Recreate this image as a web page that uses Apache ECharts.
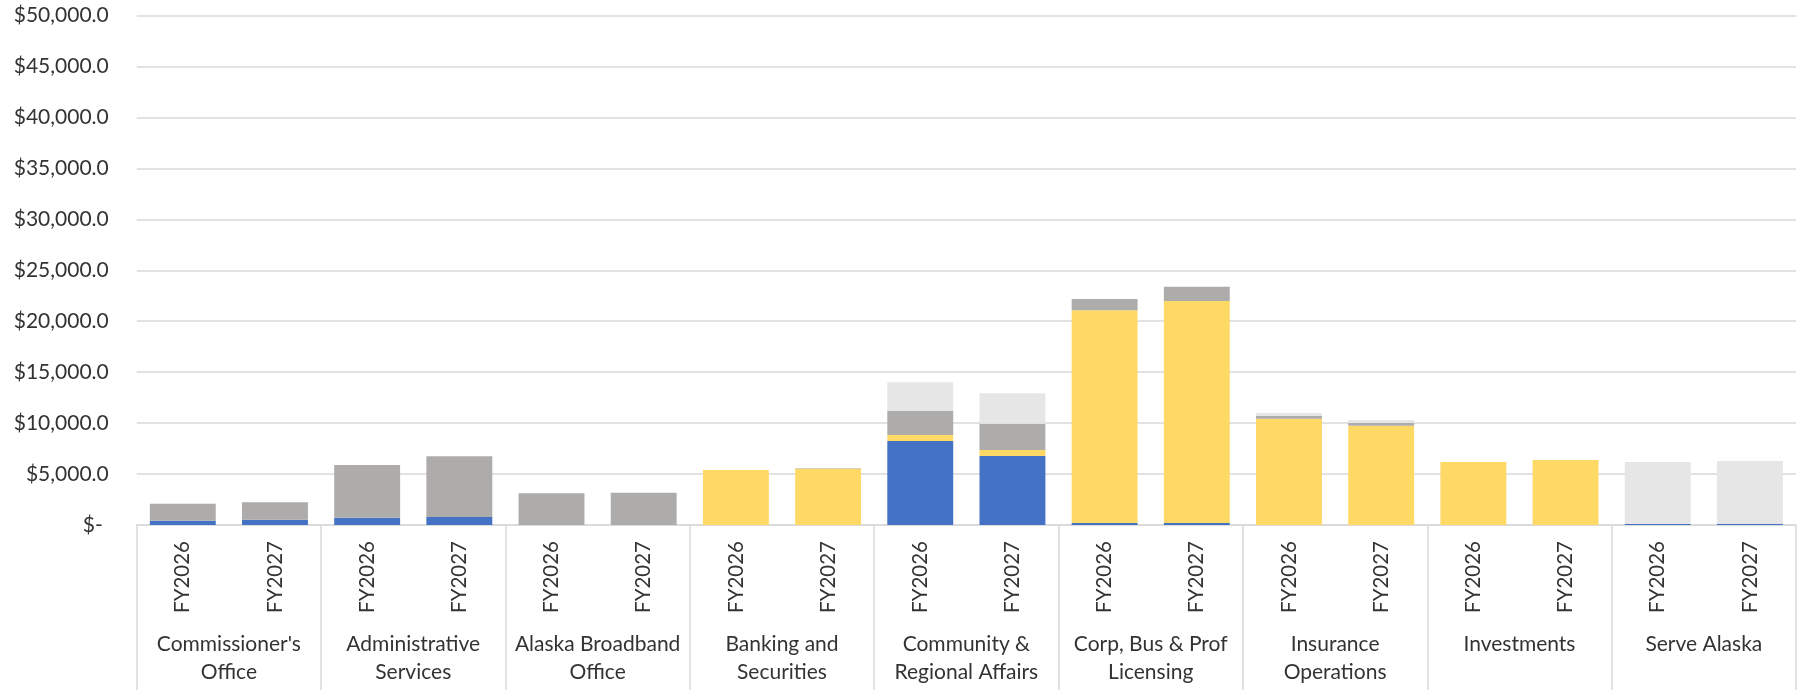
<!DOCTYPE html>
<html>
<head>
<meta charset="utf-8">
<script src="https://cdn.jsdelivr.net/npm/echarts@6/dist/echarts.min.js"></script>
<style>
html,body{margin:0;padding:0;background:#fff;}
#chart{width:1810px;height:690px;}
</style>
</head>
<body>
<div id="chart"></div>
<script>
const groups = ["Commissioner's\nOffice", "Administrative\nServices", "Alaska Broadband\nOffice", "Banking and\nSecurities", "Community &\nRegional Affairs", "Corp, Bus & Prof\nLicensing", "Insurance\nOperations", "Investments", "Serve Alaska"];
const years = ["FY2026", "FY2027"];
const yTicks = [0, 5000, 10000, 15000, 20000, 25000, 30000, 35000, 40000, 45000, 50000];

// 18 bars: each group FY2026, FY2027
const generalFunds    = [420, 520,  720, 785,  0, 0,     0, 0,     8240, 6770,  200, 200,     0, 0,        0, 0,     110, 120];
const designatedGF    = [0, 0,      0, 0,      0, 0,     5400, 5530, 590, 590,  20870, 21780, 10430, 9745, 6180, 6380, 0, 0];
const otherFunds      = [1670, 1710, 5170, 5955, 3110, 3170, 0, 40,  2360, 2580,  1110, 1410,  300, 265,    0, 0,     0, 0];
const federalFunds    = [0, 0,      0, 0,      0, 0,     0, 0,     2810, 2985,  0, 0,         260, 290,    0, 0,     6070, 6160];

const barCats = [];
groups.forEach(() => years.forEach(y => barCats.push(y)));

const FONT = 'Lato';
const TXT = '#333333';
const LINE = '#d9d9d9';
const W = 400;

function fmt(v) {
  if (v === 0) return '{z|$-}';
  return '$' + v.toLocaleString('en-US', {minimumFractionDigits: 1, maximumFractionDigits: 1});
}

const chart = echarts.init(document.getElementById('chart'), null, {renderer: 'canvas'});
const mk = (name, data, color) => ({
  name, type: 'bar', stack: 'total', data, xAxisIndex: 0,
  barCategoryGap: '28.5%',
  itemStyle: {color},
  emphasis: {disabled: true}
});
chart.setOption({
  animation: false,
  textStyle: {fontFamily: FONT},
  grid: {left: 136.7, right: 14, top: 15.5, bottom: 165, containLabel: false},
  xAxis: [
    {
      type: 'category', data: barCats, position: 'bottom', offset: 0,
      axisLine: {show: true, lineStyle: {color: LINE, width: 1.5}},
      axisTick: {show: false},
      axisLabel: {rotate: 90, margin: 16, fontSize: 20.5, fontWeight: W, color: TXT, fontFamily: FONT, interval: 0}
    },
    {
      type: 'category', data: groups, position: 'bottom', offset: 0,
      axisLine: {show: false},
      axisTick: {show: true, length: 165, interval: 0, lineStyle: {color: LINE, width: 1.5}},
      axisLabel: {margin: 105, fontSize: 21, fontWeight: W, lineHeight: 28, color: TXT, fontFamily: FONT, interval: 0, align: 'center'}
    }
  ],
  yAxis: {
    type: 'value', min: 0, max: 50000, interval: 5000,
    axisLine: {show: false}, axisTick: {show: false},
    splitLine: {lineStyle: {color: LINE, width: 1.5}},
    axisLabel: {
      margin: 28, fontSize: 21, fontWeight: W, color: TXT, fontFamily: FONT,
      formatter: fmt,
      rich: {z: {fontSize: 21, fontWeight: W, color: TXT, fontFamily: FONT, padding: [0, 6, 0, 0]}}
    }
  },
  series: [
    mk('General Funds', generalFunds, '#4472C4'),
    mk('Designated General Funds', designatedGF, '#FFD966'),
    mk('Other Funds', otherFunds, '#AEABAB'),
    mk('Federal Funds', federalFunds, '#E6E6E6')
  ]
});
</script>
</body>
</html>
